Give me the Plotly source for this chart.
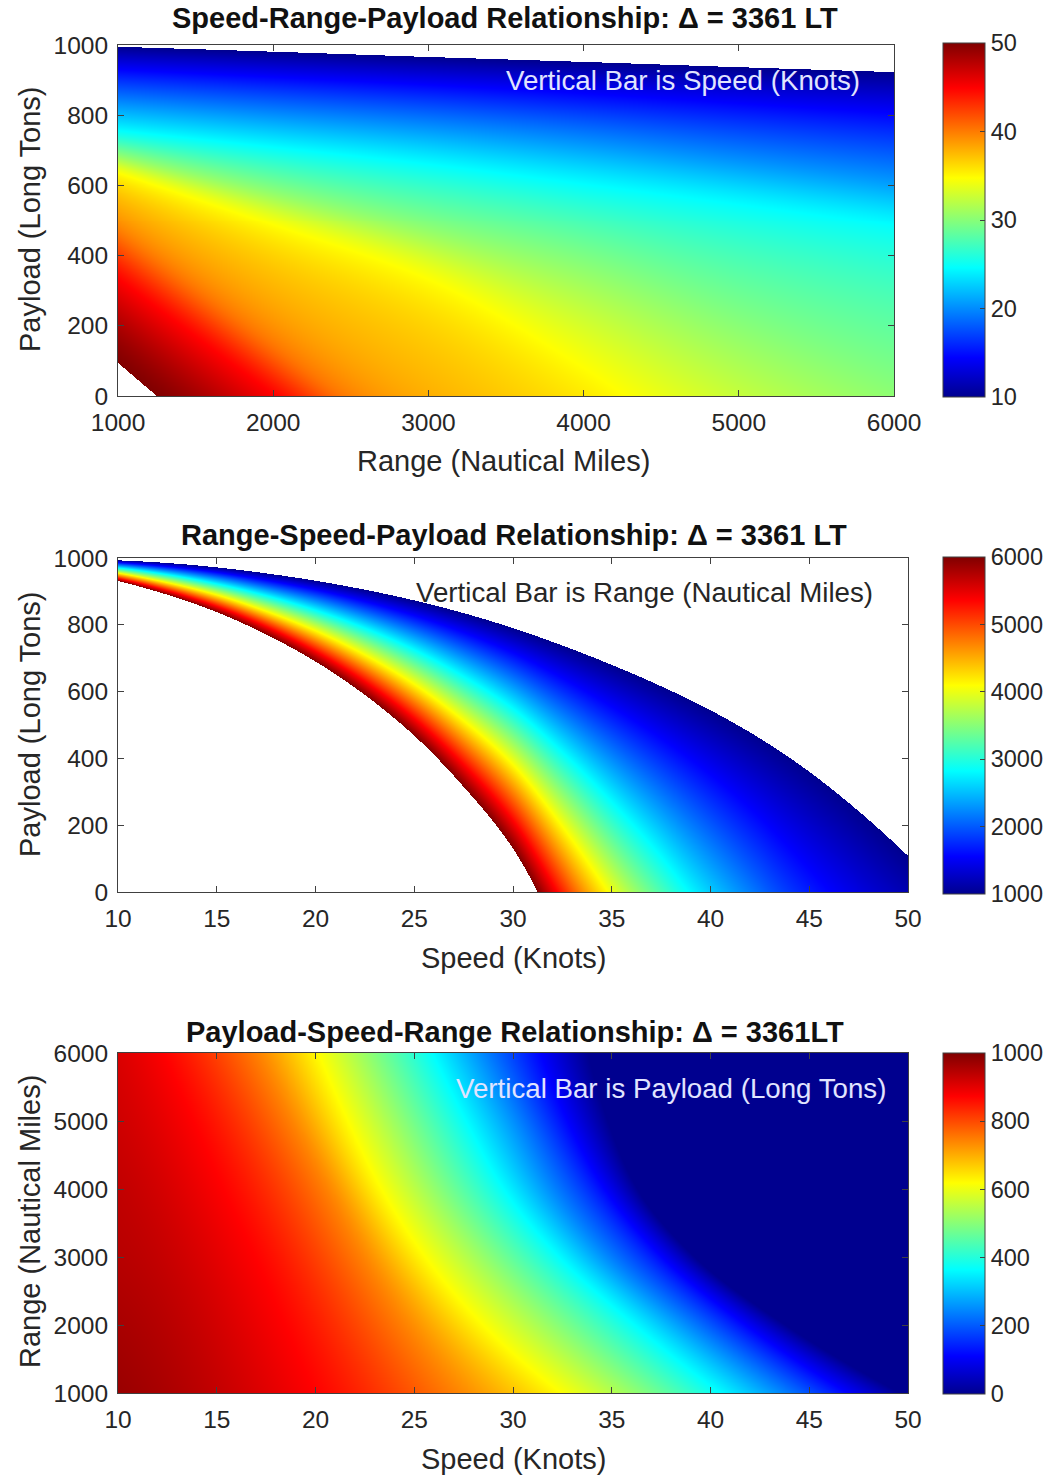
import numpy as np
import plotly.graph_objects as go

# ---------------- Panel 1: speed over (range, payload) ----------------
range_nm = [1000, 2000, 3000, 4000, 5000, 6000]
speed_levels_kn = [10, 15, 20, 25, 30, 35, 40, 45, 50]
# payload (LT) along each constant-speed line at the ranges above (None once below zero)
payload_on_speed_line = [
    [995, 981, 966, 952, 937, 923],        # 10 kn
    [921, 899, 876, 850, 820, 790],        # 15 kn
    [836, 804, 771, 730, 679, 628],        # 20 kn
    [751, 701, 650, 591, 530, 467],        # 25 kn
    [690, 588, 485, 375, 205, 25],         # 30 kn
    [632, 478, 318, 60, None, None],       # 35 kn
    [470, 155, None, None, None, None],    # 40 kn
    [330, None, None, None, None, None],   # 45 kn
    [94, None, None, None, None, None],    # 50 kn
]
# range where each constant-speed line meets zero payload
range_at_zero_payload_nm = [None, None, None, None, None, 4200, 2470, 2000, 1250]

# ---------------- Panel 2: range over (speed, payload) ----------------
speed_kn = [10, 12.5, 15, 17.5, 20, 22.5, 25, 27.5, 30, 32.5, 35, 37.5, 40, 42.5, 45, 47.5, 50]
range_levels_nm = [1000, 2000, 3000, 4000, 5000, 6000]
# payload (LT) along each constant-range line at the speeds above (None once below zero)
payload_on_range_line = [
    [993, 985, 972, 954, 932, 905, 873, 835, 790, 738, 680, 616, 544, 460, 360, 242, 108],
    [981, 966, 945, 917, 884, 842, 792, 731, 658, 563, 455, 336, 199, 35, None, None, None],
    [968, 947, 918, 881, 835, 779, 711, 627, 526, 388, 230, 56, None, None, None, None, None],
    [956, 928, 892, 844, 787, 716, 630, 523, 394, 213, None, None, None, None, None, None, None],
    [943, 909, 865, 808, 738, 653, 549, 419, 262, 38, None, None, None, None, None, None, None],
    [931, 890, 838, 771, 690, 590, 468, 315, 130, None, None, None, None, None, None, None, None],
]
# speed where each constant-range line meets zero payload
speed_at_zero_payload_kn = [None, 42.95, 38.2, 35.05, 32.87, 31.25]

# ---------------- Panel 3: payload over (speed, range) ----------------
payload_levels_lt = [875, 750, 625, 500, 375, 250, 125, 0]
# speed (kn) at which payload falls to each level, at each range in range_nm
speed_on_payload_line = [
    [19.8, 18.3, 16.8, 15.2, 13.7, 12.2],   # 875 LT
    [26.8, 24.3, 22.2, 20.4, 18.6, 16.9],   # 750 LT
    [32.2, 28.3, 25.4, 23.2, 21.5, 20.0],   # 625 LT
    [36.5, 32.3, 28.9, 26.3, 24.5, 22.9],   # 500 LT
    [40.2, 35.9, 32.1, 29.3, 27.4, 25.7],   # 375 LT
    [43.5, 38.8, 34.7, 31.9, 30.1, 28.4],   # 250 LT
    [46.6, 41.5, 37.3, 34.4, 32.5, 31.1],   # 125 LT
    [49.6, 43.8, 39.2, 36.3, 34.8, 33.8],   # 0 LT
]
# payload at the 10 kn edge, per range
payload_at_10kn_lt = [975, 960, 945, 935, 922, 910]

FONT = "Liberation Sans, Arial, sans-serif"
INK = "#262626"
FRAME = "#404040"
W, H = 1060, 1477

# MATLAB-style jet colormap
JET = [
    [0.0, "rgb(0,0,143)"],
    [0.111, "rgb(0,0,255)"],
    [0.365, "rgb(0,255,255)"],
    [0.619, "rgb(255,255,0)"],
    [0.873, "rgb(255,0,0)"],
    [1.0, "rgb(128,0,0)"],
]


def _end_slope(h0, h1, d0, d1):
    m = ((2 * h0 + h1) * d0 - h0 * d1) / (h0 + h1)
    if np.sign(m) != np.sign(d0):
        return 0.0
    if np.sign(d0) != np.sign(d1) and abs(m) > abs(3 * d0):
        return 3 * d0
    return m


def pchip(xk, yk, xq):
    """Shape-preserving cubic through the readings, straight continuation outside them."""
    xk = np.asarray(xk, float)
    yk = np.asarray(yk, float)
    xq = np.asarray(xq, float)
    n = xk.size
    h = np.diff(xk)
    d = np.diff(yk) / h
    m = np.zeros(n)
    if n == 2:
        m[:] = d[0]
    else:
        for k in range(1, n - 1):
            if d[k - 1] * d[k] > 0:
                w1 = 2 * h[k] + h[k - 1]
                w2 = h[k] + 2 * h[k - 1]
                m[k] = (w1 + w2) / (w1 / d[k - 1] + w2 / d[k])
        m[0] = _end_slope(h[0], h[1], d[0], d[1])
        m[-1] = _end_slope(h[-1], h[-2], d[-1], d[-2])
    i = np.clip(np.searchsorted(xk, xq) - 1, 0, n - 2)
    t = (xq - xk[i]) / h[i]
    h00 = (1 + 2 * t) * (1 - t) ** 2
    h10 = t * (1 - t) ** 2
    h01 = t ** 2 * (3 - 2 * t)
    h11 = t ** 2 * (t - 1)
    out = h00 * yk[i] + h10 * h[i] * m[i] + h01 * yk[i + 1] + h11 * h[i] * m[i + 1]
    lo, hi = xq < xk[0], xq > xk[-1]
    out[lo] = yk[0] + m[0] * (xq[lo] - xk[0])
    out[hi] = yk[-1] + m[-1] * (xq[hi] - xk[-1])
    return out


def line_points(xs, ys, x_zero=None):
    px = [x for x, y in zip(xs, ys) if y is not None]
    py = [y for y in ys if y is not None]
    if x_zero is not None:
        px.append(x_zero)
        py.append(0.0)
    return px, py


def level_lines(xs, lines_y, zeros, x_cells):
    return np.vstack([pchip(*line_points(xs, ys, z0), x_cells) for ys, z0 in zip(lines_y, zeros)])


def level_field(levels, stack, y_cells, smooth):
    """Value of the level variable at each (x, payload) cell between the first and last line."""
    lev = np.asarray(levels, float)
    field = np.full((y_cells.size, stack.shape[1]), np.nan)
    for j in range(stack.shape[1]):
        col = stack[:, j]
        inside = (y_cells <= col[0]) & (y_cells >= col[-1])
        if smooth:
            field[inside, j] = pchip(col[::-1], lev[::-1], y_cells[inside])
        else:
            field[inside, j] = np.interp(y_cells[inside], col[::-1], lev[::-1])
    return field


# panel 1 cells: speed at each (range, payload)
nx1, ny1 = 776, 352
x1 = 1000 + (np.arange(nx1) + 0.5) * 5000 / nx1
y1 = (np.arange(ny1) + 0.5) * 1000 / ny1
z1 = level_field(speed_levels_kn,
                 level_lines(range_nm, payload_on_speed_line, range_at_zero_payload_nm, x1),
                 y1, smooth=True)

# panel 2 cells: range at each (speed, payload)
nx2, ny2 = 790, 334
x2 = 10 + (np.arange(nx2) + 0.5) * 40 / nx2
y2 = (np.arange(ny2) + 0.5) * 1000 / ny2
z2 = level_field(range_levels_nm,
                 level_lines(speed_kn, payload_on_range_line, speed_at_zero_payload_kn, x2),
                 y2, smooth=False)

# panel 3 cells: payload at each (speed, range), floored at zero
nx3, ny3 = 790, 340
x3 = 10 + (np.arange(nx3) + 0.5) * 40 / nx3
y3 = 1000 + (np.arange(ny3) + 0.5) * 5000 / ny3
level_speed = level_lines(range_nm, speed_on_payload_line, [None] * len(payload_levels_lt), y3)
edge_payload = pchip(range_nm, payload_at_10kn_lt, y3)
z3 = np.vstack([
    pchip(np.r_[10.0, level_speed[:, i]], np.r_[edge_payload[i], payload_levels_lt], x3)
    for i in range(ny3)
])
z3 = np.clip(z3, 0, None)


def px_x(p):
    return p / W


def px_y(p):
    return 1 - p / H


def cbar(top, bottom, tickvals):
    return dict(
        x=px_x(943), xanchor="left", y=px_y((top + bottom) / 2), yanchor="middle",
        len=bottom - top, lenmode="pixels", thickness=42, thicknessmode="pixels",
        outlinewidth=1, outlinecolor=FRAME, ticks="inside", ticklen=5, tickcolor=FRAME,
        tickvals=tickvals, tickfont=dict(family=FONT, size=23.5, color=INK),
        xpad=0, ypad=0,
    )


fig = go.Figure()

fig.add_trace(go.Heatmap(
    x=x1, y=y1, z=np.round(z1, 3), colorscale=JET, zmin=10, zmax=50,
    zsmooth=False, xaxis="x", yaxis="y", hoverinfo="skip",
    colorbar=cbar(43, 397, [10, 20, 30, 40, 50]),
))
fig.add_trace(go.Heatmap(
    x=x2, y=y2, z=np.round(z2, 1), colorscale=JET, zmin=1000, zmax=6000,
    zsmooth=False, xaxis="x2", yaxis="y2", hoverinfo="skip",
    colorbar=cbar(557, 894, [1000, 2000, 3000, 4000, 5000, 6000]),
))
fig.add_trace(go.Heatmap(
    x=x3, y=y3, z=np.round(z3, 1), colorscale=JET, zmin=0, zmax=1000,
    zsmooth=False, xaxis="x3", yaxis="y3", hoverinfo="skip",
    colorbar=cbar(1053, 1394, [0, 200, 400, 600, 800, 1000]),
))

axis_common = dict(
    showgrid=False, zeroline=False, showline=True, linecolor=FRAME, linewidth=1,
    mirror="ticks", ticks="inside", ticklen=6, tickwidth=1, tickcolor=FRAME,
    tickfont=dict(family=FONT, size=24.5, color=INK),
)

fig.update_layout(
    width=W, height=H, margin=dict(l=0, r=0, t=0, b=0, autoexpand=False),
    paper_bgcolor="white", plot_bgcolor="white", showlegend=False,
    xaxis=dict(axis_common, domain=[px_x(118), px_x(894)], range=[1000, 6000],
               tickvals=range_nm, anchor="y", ticklabelstandoff=5),
    yaxis=dict(axis_common, domain=[px_y(396), px_y(45)], range=[0, 1000],
               tickvals=[0, 200, 400, 600, 800, 1000], anchor="x", ticklabelstandoff=4),
    xaxis2=dict(axis_common, domain=[px_x(118), px_x(908)], range=[10, 50],
                tickvals=[10, 15, 20, 25, 30, 35, 40, 45, 50], anchor="y2", ticklabelstandoff=5),
    yaxis2=dict(axis_common, domain=[px_y(892), px_y(558)], range=[0, 1000],
                tickvals=[0, 200, 400, 600, 800, 1000], anchor="x2", ticklabelstandoff=4),
    xaxis3=dict(axis_common, domain=[px_x(118), px_x(908)], range=[10, 50],
                tickvals=[10, 15, 20, 25, 30, 35, 40, 45, 50], anchor="y3", ticklabelstandoff=5),
    yaxis3=dict(axis_common, domain=[px_y(1393), px_y(1053)], range=[1000, 6000],
                tickvals=range_nm, anchor="x3", ticklabelstandoff=4),
)

texts = [
    # (text, x px, y px, size, bold, color, angle)
    ("Speed-Range-Payload Relationship: \u0394 = 3361 LT", 505, 18, 29, True, "#111111", 0),
    ("Range-Speed-Payload Relationship: \u0394 = 3361 LT", 514, 535, 29, True, "#111111", 0),
    ("Payload-Speed-Range Relationship: \u0394 = 3361LT", 515, 1032, 29, True, "#111111", 0),
    ("Range (Nautical Miles)", 503, 461, 29, False, INK, 0),
    ("Speed (Knots)", 513, 958, 29, False, INK, 0),
    ("Speed (Knots)", 513, 1459, 29, False, INK, 0),
    ("Payload (Long Tons)", 30, 220, 29, False, INK, -90),
    ("Payload (Long Tons)", 30, 725, 29, False, INK, -90),
    ("Range (Nautical Miles)", 30, 1222, 29, False, INK, -90),
    ("Vertical Bar is Speed (Knots)", 683, 80, 27.7, False, "rgb(225,228,255)", 0),
    ("Vertical Bar is Range (Nautical Miles)", 644, 592, 27.7, False, INK, 0),
    ("Vertical Bar is Payload (Long Tons)", 671, 1088, 27.7, False, "rgb(225,228,255)", 0),
]
for text, xp, yp, size, bold, color, angle in texts:
    fig.add_annotation(
        text=f"<b>{text}</b>" if bold else text,
        x=px_x(xp), y=px_y(yp), xref="paper", yref="paper",
        xanchor="center", yanchor="middle", showarrow=False, textangle=angle,
        font=dict(family=FONT, size=size, color=color),
    )

fig.write_html("out.html")
